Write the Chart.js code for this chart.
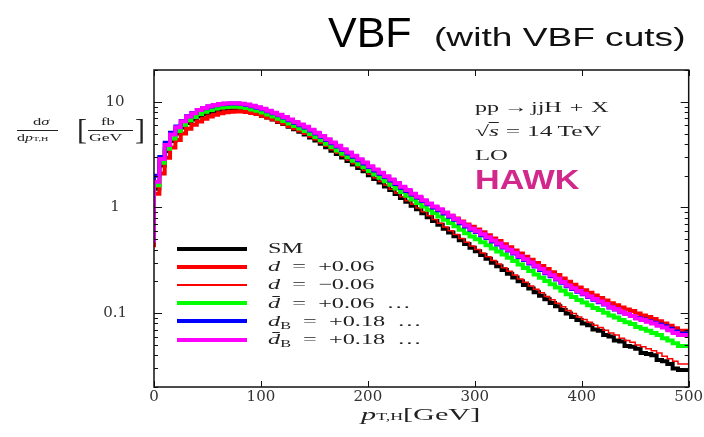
<!DOCTYPE html>
<html><head><meta charset="utf-8">
<script src="https://cdn.jsdelivr.net/npm/chart.js@4/dist/chart.umd.min.js"></script>
<style>
html,body{margin:0;padding:0;background:#fff;}
#wrap{position:relative;width:704px;height:437px;overflow:hidden;background:#fff;}
#c{position:absolute;left:0;top:0;}
.t{position:absolute;white-space:nowrap;line-height:1;}
.serif{font-family:"Liberation Serif","Times New Roman",serif;color:#222;}
.sx{transform-origin:0 0;}
.lg{position:absolute;left:177px;width:70px;}
.g{display:inline-block;}
</style></head><body>
<div id="wrap">
<canvas id="c" width="704" height="437"></canvas>

<div class="t" style="left:328px;top:10.5px;font-family:'Liberation Sans',Arial,sans-serif;font-size:43px;color:#000;">VBF</div>
<div class="t sx" style="left:434px;top:23.8px;font-family:'Liberation Sans',Arial,sans-serif;font-size:26.5px;color:#111;transform:scaleX(1.4);">(with VBF cuts)</div>

<div class="t serif sx" style="left:475px;top:100.4px;font-size:15px;transform:scaleX(1.6);">pp<span class="g" style="margin:0 2px 0 3px">→</span>jjH<span class="g" style="margin:0 5px">+</span>X</div>
<div class="t serif sx" style="left:475px;top:124.4px;font-size:15px;transform:scaleX(1.7);">√<span style="border-top:1px solid #222;"><i>s</i></span><span class="g" style="margin:0 4px">=</span>14&thinsp;TeV</div>
<div class="t serif sx" style="left:475px;top:148.4px;font-size:15px;transform:scaleX(1.65);">LO</div>
<div class="t sx" style="left:475px;top:166.3px;font-family:'Liberation Sans',Arial,sans-serif;font-weight:bold;font-size:28px;color:#d2288c;transform:scaleX(1.22);">HAWK</div>

<div id="legend"></div>

<div class="t serif sx" style="left:33px;top:115.5px;font-size:11px;transform:scaleX(1.5);">d<i>σ</i></div>
<div style="position:absolute;left:17px;top:129.5px;width:41px;height:1px;background:#222;"></div>
<div class="t serif sx" style="left:17px;top:131.5px;font-size:11px;transform:scaleX(1.45);">d<i>p</i><span style="font-size:7px;">T,H</span></div>
<div class="t serif" style="left:77px;top:114px;font-size:30px;font-weight:300;">[</div>
<div class="t serif sx" style="left:101px;top:115.5px;font-size:11px;transform:scaleX(1.5);">fb</div>
<div style="position:absolute;left:88px;top:129.5px;width:45px;height:1px;background:#222;"></div>
<div class="t serif sx" style="left:89px;top:131.5px;font-size:11px;transform:scaleX(1.6);">GeV</div>
<div class="t serif" style="left:135px;top:114px;font-size:30px;font-weight:300;">]</div>

<div class="t serif sx" style="left:361px;top:406px;font-size:17px;transform:scaleX(1.78);"><i>p</i><span style="font-size:10px;">T,H</span>[GeV]</div>
</div>
<script>
const binEdges = [0,5,10,15,20,25,30,35,40,45,50,55,60,65,70,75,80,85,90,95,
 100,105,110,115,120,125,130,135,140,145,150,155,160,165,170,175,180,185,190,195,
 200,205,210,215,220,225,230,235,240,245,250,255,260,265,270,275,280,285,290,295,
 300,305,310,315,320,325,330,335,340,345,350,355,360,365,370,375,380,385,390,395,
 400,405,410,415,420,425,430,435,440,445,450,455,460,465,470,475,480,485,490,495,500];
const xTickValues = [0,100,200,300,400,500];
const yTickValues = [0.1,1,10];

const sm = [0.44,1.5,2.5,3.4,4.25,5.0,5.7,6.3,6.8,7.25,
 7.6,7.9,8.15,8.3,8.4,8.45,8.45,8.35,8.2,7.95,
 7.7,7.4,7.1,6.8,6.45,6.15,5.8,5.5,5.2,4.9,
 4.6,4.3,4.0,3.72,3.45,3.2,2.97,2.75,2.55,2.36,
 2.2,2.02,1.86,1.72,1.58,1.46,1.34,1.23,1.13,1.04,
 0.96,0.88,0.81,0.745,0.685,0.63,0.58,0.535,0.49,0.45,
 0.415,0.385,0.355,0.327,0.30,0.278,0.256,0.236,0.218,0.20,
 0.185,0.171,0.158,0.146,0.135,0.125,0.116,0.107,0.099,0.092,
 0.086,0.080,0.077,0.070,0.068,0.062,0.060,0.055,0.054,0.049,
 0.048,0.046,0.042,0.041,0.040,0.036,0.035,0.033,0.030,0.029];
const dPlus = [0.42,1.35,2.1,2.95,3.7,4.35,5.0,5.55,6.05,6.5,
 6.9,7.25,7.55,7.8,7.95,8.05,8.1,8.1,8.0,7.85,
 7.65,7.38,7.1,6.82,6.5,6.23,5.9,5.62,5.34,5.06,
 4.78,4.49,4.2,3.93,3.67,3.43,3.2,2.99,2.79,2.62,
 2.46,2.28,2.12,1.99,1.85,1.73,1.61,1.49,1.39,1.30,
 1.22,1.14,1.07,1.006,0.945,0.888,0.835,0.786,0.735,0.689,
 0.656,0.62,0.582,0.546,0.51,0.481,0.448,0.42,0.392,0.366,
 0.342,0.32,0.299,0.279,0.261,0.244,0.229,0.213,0.198,0.186,
 0.175,0.165,0.156,0.147,0.139,0.132,0.124,0.119,0.113,0.108,
 0.105,0.099,0.095,0.092,0.088,0.084,0.080,0.076,0.072,0.068];
const dMinus = [0.45,1.55,2.58,3.5,4.38,5.15,5.87,6.49,7.0,7.47,
 7.83,8.14,8.39,8.55,8.65,8.7,8.7,8.6,8.45,8.19,
 7.85,7.55,7.24,6.94,6.58,6.27,5.92,5.61,5.3,5.0,
 4.69,4.39,4.08,3.79,3.52,3.26,3.03,2.8,2.6,2.41,
 2.24,2.06,1.9,1.76,1.62,1.49,1.37,1.26,1.16,1.07,
 0.99,0.91,0.835,0.77,0.71,0.653,0.602,0.556,0.51,0.468,
 0.432,0.401,0.371,0.342,0.315,0.292,0.269,0.249,0.230,0.211,
 0.196,0.181,0.168,0.156,0.144,0.134,0.124,0.115,0.106,0.099,
 0.092,0.087,0.082,0.077,0.073,0.069,0.065,0.062,0.058,0.055,
 0.053,0.050,0.048,0.046,0.044,0.042,0.039,0.037,0.035,0.033];
const dBar = [0.47,1.62,2.65,3.6,4.5,5.3,6.05,6.68,7.2,7.68,
 8.06,8.38,8.65,8.83,8.95,9.0,9.0,8.9,8.73,8.47,
 8.24,7.92,7.6,7.28,6.9,6.59,6.23,5.91,5.6,5.28,
 4.96,4.64,4.32,4.02,3.73,3.47,3.22,2.99,2.77,2.57,
 2.4,2.21,2.05,1.91,1.77,1.64,1.51,1.40,1.29,1.19,
 1.10,1.02,0.952,0.887,0.822,0.765,0.713,0.665,0.615,0.571,
 0.531,0.50,0.469,0.438,0.408,0.384,0.358,0.334,0.312,0.288,
 0.268,0.250,0.232,0.216,0.201,0.188,0.175,0.163,0.151,0.142,
 0.133,0.126,0.119,0.112,0.107,0.101,0.095,0.091,0.086,0.082,
 0.079,0.074,0.071,0.068,0.065,0.062,0.058,0.055,0.052,0.049];
const dB = [0.50,2.0,3.0,4.1,5.1,5.85,6.6,7.3,7.85,8.35,
 8.7,9.05,9.3,9.5,9.6,9.65,9.65,9.55,9.35,9.1,
 8.8,8.5,8.15,7.8,7.45,7.1,6.7,6.35,6.0,5.7,
 5.35,5.0,4.67,4.35,4.05,3.77,3.5,3.25,3.02,2.8,
 2.61,2.41,2.24,2.09,1.94,1.8,1.67,1.54,1.43,1.33,
 1.24,1.15,1.07,1.0,0.94,0.877,0.818,0.764,0.71,0.662,
 0.617,0.585,0.546,0.513,0.476,0.447,0.417,0.391,0.366,0.339,
 0.318,0.295,0.276,0.256,0.239,0.224,0.208,0.194,0.180,0.169,
 0.159,0.151,0.142,0.134,0.127,0.121,0.113,0.108,0.102,0.098,
 0.094,0.090,0.087,0.084,0.081,0.078,0.075,0.071,0.067,0.064];
const dBarB = [0.46,1.75,2.88,3.9,4.9,5.75,6.55,7.25,7.8,8.35,
 8.75,9.1,9.35,9.55,9.65,9.7,9.7,9.6,9.45,9.2,
 8.9,8.6,8.25,7.9,7.55,7.2,6.8,6.45,6.1,5.8,
 5.45,5.1,4.75,4.43,4.12,3.84,3.56,3.31,3.08,2.86,
 2.66,2.46,2.29,2.13,1.98,1.84,1.70,1.57,1.46,1.35,
 1.26,1.17,1.09,1.02,0.96,0.895,0.835,0.78,0.725,0.675,
 0.63,0.597,0.557,0.523,0.486,0.456,0.425,0.399,0.373,0.346,
 0.324,0.301,0.281,0.261,0.243,0.228,0.212,0.197,0.183,0.172,
 0.162,0.153,0.144,0.136,0.129,0.122,0.114,0.109,0.103,0.098,
 0.094,0.089,0.086,0.083,0.080,0.076,0.073,0.069,0.065,0.062];

const seriesLabels = ['SM','<i>d</i>&ensp;=&ensp;+0.06','<i>d</i>&ensp;=&ensp;−0.06',
  '<i>d̄</i>&ensp;=&ensp;+0.06&ensp;…','<i>d</i><sub style="font-size:10px;vertical-align:-3px">B</sub>&ensp;=&ensp;+0.18&ensp;…',
  '<i>d̄</i><sub style="font-size:10px;vertical-align:-3px">B</sub>&ensp;=&ensp;+0.18&ensp;…'];
const seriesColors = ['#000000','#ff0000','#ff0000','#00ff00','#0000ff','#ff00ff'];
const seriesWidths = [4,4,1.5,4,4,4];
const seriesValues = [sm,dPlus,dMinus,dBar,dB,dBarB];

// legend (HTML)
const lg = document.getElementById('legend');
seriesLabels.forEach((lab,i)=>{
  const cy = 248.5 + 18.2*i;
  const ln = document.createElement('div');
  ln.className='lg';
  ln.style.top = (cy - seriesWidths[i]/2)+'px';
  ln.style.height = seriesWidths[i]+'px';
  ln.style.background = seriesColors[i];
  lg.appendChild(ln);
  const tx = document.createElement('div');
  tx.className='t serif sx';
  tx.style.left='268px'; tx.style.top=(cy-7.6)+'px'; tx.style.fontSize='15px';
  tx.style.transform='scaleX(1.62)';
  tx.innerHTML = lab;
  lg.appendChild(tx);
});

function pts(vals){ return binEdges.map((x,i)=>({x:x, y:vals[Math.min(i, vals.length-1)]})); }

const frameTicks = {
  id:'frameTicks',
  afterDatasetsDraw(chart){
    const {ctx, chartArea:a, scales:{x,y}} = chart;
    ctx.save();
    ctx.strokeStyle='#111';
    ctx.lineWidth=1;
    const ln=(x1,y1,x2,y2)=>{ctx.beginPath();ctx.moveTo(x1,y1);ctx.lineTo(x2,y2);ctx.stroke();};
    xTickValues.forEach(v=>{
      const px = Math.round(x.getPixelForValue(v))+0.5;
      ln(px,a.bottom,px,a.bottom-6); ln(px,a.top,px,a.top+6);
    });
    [0.01,0.1,1,10].forEach(dec=>{
      for(let k=1;k<=9;k++){
        const v=k*dec;
        if(v<y.min-1e-9||v>y.max+1e-9) continue;
        const py=Math.round(y.getPixelForValue(v))+0.5;
        const len = k===1?8:4;
        ln(a.left,py,a.left+len,py); ln(a.right,py,a.right-len,py);
      }
    });
    ctx.lineWidth=1.5;
    ctx.strokeRect(a.left,a.top,a.right-a.left,a.bottom-a.top);
    ctx.restore();
  }
};

new Chart(document.getElementById('c'),{
  type:'line',
  data:{datasets: seriesValues.map((vals,i)=>({
    label: seriesLabels[i].replace(/<[^>]+>/g,'').replace(/&ensp;/g,' '),
    data: pts(vals),
    borderColor: seriesColors[i],
    borderWidth: seriesWidths[i],
    stepped:'after',
    pointRadius:0,
    fill:false,
    order: 6-i,
    borderCapStyle:'butt',
    borderJoinStyle:'miter'
  }))},
  options:{
    responsive:false, animation:false, devicePixelRatio:1,
    layout:{padding:{left:0,top:70,right:15,bottom:0}},
    plugins:{legend:{display:false}, tooltip:{enabled:false}, title:{display:false}},
    scales:{
      x:{type:'linear', min:0, max:500,
        afterBuildTicks:(s)=>{ s.ticks = xTickValues.map(v=>({value:v})); },
        afterFit:(s)=>{ s.height = 50; },
        ticks:{color:'#333', padding:1, maxRotation:0, autoSkip:false,
          font:{family:'"DejaVu Serif", serif', size:15}},
        grid:{display:false, drawTicks:false}, border:{display:false}},
      y:{type:'logarithmic', min:0.02, max:20,
        afterBuildTicks:(s)=>{ s.ticks = yTickValues.map(v=>({value:v, major:true})); },
        afterFit:(s)=>{ s.width = 154; },
        ticks:{color:'#333', padding:27, crossAlign:'center',
          font:{family:'"DejaVu Serif", serif', size:15},
          callback:(v)=>String(v)},
        grid:{display:false, drawTicks:false}, border:{display:false}}
    }
  },
  plugins:[frameTicks]
});
</script>
</body></html>
